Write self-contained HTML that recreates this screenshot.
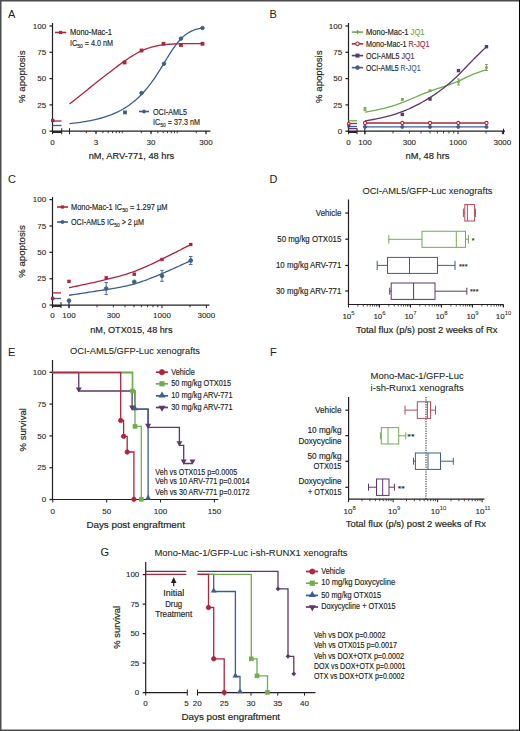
<!DOCTYPE html>
<html><head><meta charset="utf-8"><style>
html,body{margin:0;padding:0;background:#fff;}
body{width:520px;height:731px;overflow:hidden;}
svg{display:block;}
text{font-family:"Liberation Sans",sans-serif;}
</style></head><body>
<svg width="520" height="731" viewBox="0 0 520 731">
<rect x="0" y="0" width="520" height="731" fill="#fff"/>
<text x="8.00" y="17.80" font-size="11" fill="#231f20" stroke="#231f20" stroke-width="0.05">A</text>
<line x1="52.50" y1="23.00" x2="52.50" y2="131.80" stroke="#231f20" stroke-width="1.2"/>
<line x1="49.50" y1="131.20" x2="52.50" y2="131.20" stroke="#231f20" stroke-width="1.25"/>
<text x="46.20" y="133.80" font-size="8.0" fill="#231f20" stroke="#231f20" stroke-width="0.1" text-anchor="end">0</text>
<line x1="49.50" y1="104.90" x2="52.50" y2="104.90" stroke="#231f20" stroke-width="1.25"/>
<text x="46.20" y="107.50" font-size="8.0" fill="#231f20" stroke="#231f20" stroke-width="0.1" text-anchor="end">25</text>
<line x1="49.50" y1="78.60" x2="52.50" y2="78.60" stroke="#231f20" stroke-width="1.25"/>
<text x="46.20" y="81.20" font-size="8.0" fill="#231f20" stroke="#231f20" stroke-width="0.1" text-anchor="end">50</text>
<line x1="49.50" y1="52.30" x2="52.50" y2="52.30" stroke="#231f20" stroke-width="1.25"/>
<text x="46.20" y="54.90" font-size="8.0" fill="#231f20" stroke="#231f20" stroke-width="0.1" text-anchor="end">75</text>
<line x1="49.50" y1="26.00" x2="52.50" y2="26.00" stroke="#231f20" stroke-width="1.25"/>
<text x="46.20" y="28.60" font-size="8.0" fill="#231f20" stroke="#231f20" stroke-width="0.1" text-anchor="end">100</text>
<line x1="51.90" y1="131.20" x2="210.50" y2="131.20" stroke="#231f20" stroke-width="1.2"/>
<line x1="52.50" y1="128.20" x2="52.50" y2="134.20" stroke="#231f20" stroke-width="1.0"/>
<line x1="61.70" y1="128.20" x2="61.70" y2="134.20" stroke="#231f20" stroke-width="1.0"/>
<line x1="69.50" y1="128.20" x2="69.50" y2="134.20" stroke="#231f20" stroke-width="1.0"/>
<rect x="53" y="131.2" width="8.5" height="1.8" fill="#231f20"/>
<line x1="86.31" y1="131.20" x2="86.31" y2="133.20" stroke="#231f20" stroke-width="0.9"/>
<line x1="96.00" y1="131.20" x2="96.00" y2="133.20" stroke="#231f20" stroke-width="0.9"/>
<line x1="102.87" y1="131.20" x2="102.87" y2="133.20" stroke="#231f20" stroke-width="0.9"/>
<line x1="108.20" y1="131.20" x2="108.20" y2="133.20" stroke="#231f20" stroke-width="0.9"/>
<line x1="112.56" y1="131.20" x2="112.56" y2="133.20" stroke="#231f20" stroke-width="0.9"/>
<line x1="116.24" y1="131.20" x2="116.24" y2="133.20" stroke="#231f20" stroke-width="0.9"/>
<line x1="119.43" y1="131.20" x2="119.43" y2="133.20" stroke="#231f20" stroke-width="0.9"/>
<line x1="122.24" y1="131.20" x2="122.24" y2="133.20" stroke="#231f20" stroke-width="0.9"/>
<line x1="141.31" y1="131.20" x2="141.31" y2="133.20" stroke="#231f20" stroke-width="0.9"/>
<line x1="151.00" y1="131.20" x2="151.00" y2="133.20" stroke="#231f20" stroke-width="0.9"/>
<line x1="157.87" y1="131.20" x2="157.87" y2="133.20" stroke="#231f20" stroke-width="0.9"/>
<line x1="163.20" y1="131.20" x2="163.20" y2="133.20" stroke="#231f20" stroke-width="0.9"/>
<line x1="167.56" y1="131.20" x2="167.56" y2="133.20" stroke="#231f20" stroke-width="0.9"/>
<line x1="171.24" y1="131.20" x2="171.24" y2="133.20" stroke="#231f20" stroke-width="0.9"/>
<line x1="174.43" y1="131.20" x2="174.43" y2="133.20" stroke="#231f20" stroke-width="0.9"/>
<line x1="177.24" y1="131.20" x2="177.24" y2="133.20" stroke="#231f20" stroke-width="0.9"/>
<line x1="196.31" y1="131.20" x2="196.31" y2="133.20" stroke="#231f20" stroke-width="0.9"/>
<line x1="206.00" y1="131.20" x2="206.00" y2="133.20" stroke="#231f20" stroke-width="0.9"/>
<line x1="96.00" y1="131.20" x2="96.00" y2="134.20" stroke="#231f20" stroke-width="1.0"/>
<line x1="151.00" y1="131.20" x2="151.00" y2="134.20" stroke="#231f20" stroke-width="1.0"/>
<line x1="206.00" y1="131.20" x2="206.00" y2="134.20" stroke="#231f20" stroke-width="1.0"/>
<text x="96.00" y="145.00" font-size="8.0" fill="#231f20" stroke="#231f20" stroke-width="0.1" text-anchor="middle">3</text>
<text x="151.00" y="145.00" font-size="8.0" fill="#231f20" stroke="#231f20" stroke-width="0.1" text-anchor="middle">30</text>
<text x="206.00" y="145.00" font-size="8.0" fill="#231f20" stroke="#231f20" stroke-width="0.1" text-anchor="middle">300</text>
<text x="52.50" y="145.00" font-size="8.0" fill="#231f20" stroke="#231f20" stroke-width="0.1" text-anchor="middle">0</text>
<text x="88.70" y="158.90" font-size="9.6" fill="#231f20" stroke="#231f20" stroke-width="0.18" textLength="85.50" lengthAdjust="spacingAndGlyphs">nM, ARV-771, 48 hrs</text>
<text x="25.30" y="76.70" font-size="9.5" fill="#231f20" stroke="#231f20" stroke-width="0.18" text-anchor="middle" textLength="52.50" lengthAdjust="spacingAndGlyphs" transform="rotate(-90 25.30 76.70)">% apoptosis</text>
<line x1="55.00" y1="32.50" x2="66.30" y2="32.50" stroke="#ac263d" stroke-width="1.6"/>
<rect x="59.00" y="30.90" width="3.20" height="3.20" fill="#ac263d"/>
<text x="70.00" y="35.40" font-size="8.6" fill="#231f20" stroke="#231f20" stroke-width="0.16" textLength="42.00" lengthAdjust="spacingAndGlyphs">Mono-Mac-1</text>
<text x="70.00" y="45.70" font-size="8.6" fill="#231f20" stroke="#231f20" stroke-width="0.16" textLength="43.00" lengthAdjust="spacingAndGlyphs">IC<tspan font-size="5.9" dy="2.1">50</tspan><tspan dy="-2.1"> = 4.0 nM</tspan></text>
<line x1="139.00" y1="111.50" x2="149.00" y2="111.50" stroke="#3c5e8f" stroke-width="1.6"/>
<circle cx="144.00" cy="111.50" r="1.60" fill="#3c5e8f" stroke="#3c5e8f" stroke-width="0.8"/>
<text x="153.00" y="114.50" font-size="8.6" fill="#231f20" stroke="#231f20" stroke-width="0.16" textLength="34.00" lengthAdjust="spacingAndGlyphs">OCI-AML5</text>
<text x="153.00" y="124.70" font-size="8.6" fill="#231f20" stroke="#231f20" stroke-width="0.16" textLength="47.00" lengthAdjust="spacingAndGlyphs">IC<tspan font-size="5.9" dy="2.1">50</tspan><tspan dy="-2.1"> = 37.3 nM</tspan></text>
<line x1="52.50" y1="121.00" x2="61.50" y2="121.00" stroke="#ac263d" stroke-width="1.3"/>
<rect x="51.10" y="118.80" width="3.40" height="3.40" fill="#ac263d"/>
<line x1="52.50" y1="125.50" x2="61.50" y2="125.50" stroke="#3c5e8f" stroke-width="1.3"/>
<polyline points="69.50,104.04 71.72,102.27 73.93,100.50 76.15,98.73 78.37,96.96 80.58,95.19 82.80,93.42 85.02,91.66 87.23,89.89 89.45,88.12 91.67,86.36 93.88,84.60 96.10,82.84 98.32,81.09 100.53,79.33 102.75,77.59 104.97,75.85 107.18,74.11 109.40,72.39 111.62,70.68 113.83,68.98 116.05,67.30 118.27,65.63 120.48,64.00 122.70,62.39 124.92,60.82 127.13,59.28 129.35,57.80 131.57,56.37 133.78,55.01 136.00,53.71 138.22,52.50 140.43,51.36 142.65,50.32 144.87,49.37 147.08,48.52 149.30,47.76 151.52,47.09 153.73,46.51 155.95,46.01 158.17,45.58 160.38,45.22 162.60,44.91 164.82,44.66 167.03,44.45 169.25,44.27 171.47,44.13 173.68,44.01 175.90,43.91 178.12,43.84 180.33,43.77 182.55,43.72 184.77,43.68 186.98,43.64 189.20,43.61 191.42,43.59 193.63,43.57 195.85,43.56 198.07,43.55 200.28,43.54 202.50,43.53" fill="none" stroke="#ac263d" stroke-width="1.3" stroke-linejoin="round"/>
<rect x="122.70" y="60.60" width="3.80" height="3.80" fill="#ac263d"/>
<rect x="139.60" y="48.60" width="3.80" height="3.80" fill="#ac263d"/>
<rect x="161.60" y="41.90" width="3.80" height="3.80" fill="#ac263d"/>
<rect x="179.10" y="43.10" width="3.80" height="3.80" fill="#ac263d"/>
<rect x="200.60" y="41.90" width="3.80" height="3.80" fill="#ac263d"/>
<polyline points="69.50,123.60 71.72,123.37 73.93,123.13 76.15,122.86 78.37,122.58 80.58,122.28 82.80,121.95 85.02,121.60 87.23,121.22 89.45,120.81 91.67,120.37 93.88,119.89 96.10,119.39 98.32,118.84 100.53,118.25 102.75,117.61 104.97,116.93 107.18,116.20 109.40,115.41 111.62,114.56 113.83,113.64 116.05,112.66 118.27,111.60 120.48,110.46 122.70,109.24 124.92,107.92 127.13,106.51 129.35,104.99 131.57,103.35 133.78,101.60 136.00,99.72 138.22,97.71 140.43,95.55 142.65,93.24 144.87,90.78 147.08,88.15 149.30,85.37 151.52,82.42 153.73,79.30 155.95,76.04 158.17,72.65 160.38,69.13 162.60,65.54 164.82,61.90 167.03,58.26 169.25,54.68 171.47,51.21 173.68,47.91 175.90,44.83 178.12,42.02 180.33,39.49 182.55,37.26 184.77,35.33 186.98,33.69 189.20,32.31 191.42,31.16 193.63,30.23 195.85,29.46 198.07,28.85 200.28,28.36 202.50,27.97" fill="none" stroke="#3c5e8f" stroke-width="1.3" stroke-linejoin="round"/>
<rect x="123.10" y="110.50" width="3.80" height="3.80" fill="#3c5e8f"/>
<circle cx="141.50" cy="93.00" r="1.80" fill="#3c5e8f" stroke="#3c5e8f" stroke-width="0.8"/>
<circle cx="164.00" cy="63.80" r="1.80" fill="#3c5e8f" stroke="#3c5e8f" stroke-width="0.8"/>
<circle cx="181.00" cy="38.60" r="1.80" fill="#3c5e8f" stroke="#3c5e8f" stroke-width="0.8"/>
<circle cx="202.50" cy="28.00" r="1.80" fill="#3c5e8f" stroke="#3c5e8f" stroke-width="0.8"/>
<text x="269.50" y="17.80" font-size="11" fill="#231f20" stroke="#231f20" stroke-width="0.05">B</text>
<line x1="348.50" y1="23.00" x2="348.50" y2="131.80" stroke="#231f20" stroke-width="1.2"/>
<line x1="345.50" y1="131.20" x2="348.50" y2="131.20" stroke="#231f20" stroke-width="1.25"/>
<text x="342.20" y="133.80" font-size="8.0" fill="#231f20" stroke="#231f20" stroke-width="0.1" text-anchor="end">0</text>
<line x1="345.50" y1="104.90" x2="348.50" y2="104.90" stroke="#231f20" stroke-width="1.25"/>
<text x="342.20" y="107.50" font-size="8.0" fill="#231f20" stroke="#231f20" stroke-width="0.1" text-anchor="end">25</text>
<line x1="345.50" y1="78.60" x2="348.50" y2="78.60" stroke="#231f20" stroke-width="1.25"/>
<text x="342.20" y="81.20" font-size="8.0" fill="#231f20" stroke="#231f20" stroke-width="0.1" text-anchor="end">50</text>
<line x1="345.50" y1="52.30" x2="348.50" y2="52.30" stroke="#231f20" stroke-width="1.25"/>
<text x="342.20" y="54.90" font-size="8.0" fill="#231f20" stroke="#231f20" stroke-width="0.1" text-anchor="end">75</text>
<line x1="345.50" y1="26.00" x2="348.50" y2="26.00" stroke="#231f20" stroke-width="1.25"/>
<text x="342.20" y="28.60" font-size="8.0" fill="#231f20" stroke="#231f20" stroke-width="0.1" text-anchor="end">100</text>
<line x1="347.90" y1="131.20" x2="505.00" y2="131.20" stroke="#231f20" stroke-width="1.2"/>
<line x1="348.50" y1="128.20" x2="348.50" y2="134.20" stroke="#231f20" stroke-width="1.0"/>
<line x1="357.00" y1="128.20" x2="357.00" y2="134.20" stroke="#231f20" stroke-width="1.0"/>
<line x1="364.80" y1="128.20" x2="364.80" y2="134.20" stroke="#231f20" stroke-width="1.0"/>
<rect x="349" y="131.2" width="8" height="1.8" fill="#231f20"/>
<line x1="393.00" y1="131.20" x2="393.00" y2="133.40" stroke="#231f20" stroke-width="0.9"/>
<line x1="409.37" y1="131.20" x2="409.37" y2="133.40" stroke="#231f20" stroke-width="0.9"/>
<line x1="420.99" y1="131.20" x2="420.99" y2="133.40" stroke="#231f20" stroke-width="0.9"/>
<line x1="430.00" y1="131.20" x2="430.00" y2="133.40" stroke="#231f20" stroke-width="0.9"/>
<line x1="437.37" y1="131.20" x2="437.37" y2="133.40" stroke="#231f20" stroke-width="0.9"/>
<line x1="443.59" y1="131.20" x2="443.59" y2="133.40" stroke="#231f20" stroke-width="0.9"/>
<line x1="448.99" y1="131.20" x2="448.99" y2="133.40" stroke="#231f20" stroke-width="0.9"/>
<line x1="453.74" y1="131.20" x2="453.74" y2="133.40" stroke="#231f20" stroke-width="0.9"/>
<line x1="486.00" y1="131.20" x2="486.00" y2="133.40" stroke="#231f20" stroke-width="0.9"/>
<line x1="365.00" y1="131.20" x2="365.00" y2="134.20" stroke="#231f20" stroke-width="1.0"/>
<line x1="458.00" y1="131.20" x2="458.00" y2="134.20" stroke="#231f20" stroke-width="1.0"/>
<line x1="502.37" y1="131.20" x2="502.37" y2="134.20" stroke="#231f20" stroke-width="1.0"/>
<line x1="503.50" y1="128.70" x2="503.50" y2="134.20" stroke="#231f20" stroke-width="1.0"/>
<text x="365.00" y="145.00" font-size="8.0" fill="#231f20" stroke="#231f20" stroke-width="0.1" text-anchor="middle">100</text>
<text x="409.37" y="145.00" font-size="8.0" fill="#231f20" stroke="#231f20" stroke-width="0.1" text-anchor="middle">300</text>
<text x="458.00" y="145.00" font-size="8.0" fill="#231f20" stroke="#231f20" stroke-width="0.1" text-anchor="middle">1000</text>
<text x="502.37" y="145.00" font-size="8.0" fill="#231f20" stroke="#231f20" stroke-width="0.1" text-anchor="middle">3000</text>
<text x="348.50" y="145.00" font-size="8.0" fill="#231f20" stroke="#231f20" stroke-width="0.1" text-anchor="middle">0</text>
<text x="427.50" y="158.90" font-size="9.6" fill="#231f20" stroke="#231f20" stroke-width="0.18" text-anchor="middle" textLength="44.00" lengthAdjust="spacingAndGlyphs">nM, 48 hrs</text>
<text x="322.10" y="76.70" font-size="9.5" fill="#231f20" stroke="#231f20" stroke-width="0.18" text-anchor="middle" textLength="52.50" lengthAdjust="spacingAndGlyphs" transform="rotate(-90 322.10 76.70)">% apoptosis</text>
<line x1="351.80" y1="32.10" x2="363.10" y2="32.10" stroke="#70ad4f" stroke-width="1.6"/>
<line x1="355.50" y1="32.10" x2="359.50" y2="32.10" stroke="#70ad4f" stroke-width="1.3"/>
<line x1="357.50" y1="30.10" x2="357.50" y2="34.10" stroke="#70ad4f" stroke-width="1.3"/>
<text x="366.00" y="35.00" font-size="8.6" fill="#231f20" stroke="#231f20" stroke-width="0.16" textLength="58.50" lengthAdjust="spacingAndGlyphs">Mono-Mac-1 <tspan fill="#70ad4f" stroke="#70ad4f">JQ1</tspan></text>
<line x1="351.80" y1="43.80" x2="363.10" y2="43.80" stroke="#ac263d" stroke-width="1.6"/>
<circle cx="357.50" cy="43.80" r="1.80" fill="#fff" stroke="#ac263d" stroke-width="1.1"/>
<text x="366.00" y="46.70" font-size="8.6" fill="#231f20" stroke="#231f20" stroke-width="0.16" textLength="63.50" lengthAdjust="spacingAndGlyphs">Mono-Mac-1 <tspan fill="#ac263d" stroke="#ac263d">R-JQ1</tspan></text>
<line x1="351.80" y1="55.60" x2="363.10" y2="55.60" stroke="#5e376c" stroke-width="1.6"/>
<rect x="355.50" y="53.60" width="4.00" height="4.00" fill="#5e376c"/>
<text x="366.00" y="58.50" font-size="8.6" fill="#231f20" stroke="#231f20" stroke-width="0.16" textLength="48.50" lengthAdjust="spacingAndGlyphs">OCI-AML5 <tspan fill="#5e376c" stroke="#5e376c">JQ1</tspan></text>
<line x1="351.80" y1="67.60" x2="363.10" y2="67.60" stroke="#3c5e8f" stroke-width="1.6"/>
<circle cx="357.50" cy="67.60" r="1.90" fill="#3c5e8f" stroke="#3c5e8f" stroke-width="0.8"/>
<text x="366.00" y="70.50" font-size="8.6" fill="#231f20" stroke="#231f20" stroke-width="0.16" textLength="54.50" lengthAdjust="spacingAndGlyphs">OCI-AML5 <tspan fill="#3c5e8f" stroke="#3c5e8f">R-JQ1</tspan></text>
<line x1="348.50" y1="120.80" x2="357.00" y2="120.80" stroke="#70ad4f" stroke-width="1.3"/>
<line x1="348.50" y1="123.50" x2="357.00" y2="123.50" stroke="#ac263d" stroke-width="1.3"/>
<line x1="348.50" y1="126.50" x2="357.00" y2="126.50" stroke="#3c5e8f" stroke-width="1.3"/>
<line x1="348.50" y1="128.60" x2="357.00" y2="128.60" stroke="#5e376c" stroke-width="1.3"/>
<rect x="347.30" y="124.30" width="3.00" height="3.00" fill="#5e376c"/>
<circle cx="348.80" cy="123.50" r="1.30" fill="#fff" stroke="#ac263d" stroke-width="1.1"/>
<line x1="365.00" y1="123.00" x2="486.50" y2="123.00" stroke="#ac263d" stroke-width="1.3"/>
<line x1="365.00" y1="126.90" x2="486.50" y2="126.90" stroke="#3c5e8f" stroke-width="1.3"/>
<circle cx="365.00" cy="123.00" r="1.60" fill="#fff" stroke="#ac263d" stroke-width="1.1"/>
<circle cx="365.00" cy="126.90" r="1.60" fill="#3c5e8f" stroke="#3c5e8f" stroke-width="0.8"/>
<circle cx="402.30" cy="123.00" r="1.60" fill="#fff" stroke="#ac263d" stroke-width="1.1"/>
<circle cx="402.30" cy="126.90" r="1.60" fill="#3c5e8f" stroke="#3c5e8f" stroke-width="0.8"/>
<circle cx="430.00" cy="123.00" r="1.60" fill="#fff" stroke="#ac263d" stroke-width="1.1"/>
<circle cx="430.00" cy="126.90" r="1.60" fill="#3c5e8f" stroke="#3c5e8f" stroke-width="0.8"/>
<circle cx="458.30" cy="123.00" r="1.60" fill="#fff" stroke="#ac263d" stroke-width="1.1"/>
<circle cx="458.30" cy="126.90" r="1.60" fill="#3c5e8f" stroke="#3c5e8f" stroke-width="0.8"/>
<circle cx="486.50" cy="123.00" r="1.60" fill="#fff" stroke="#ac263d" stroke-width="1.1"/>
<circle cx="486.50" cy="126.90" r="1.60" fill="#3c5e8f" stroke="#3c5e8f" stroke-width="0.8"/>
<polyline points="365.00,112.20 367.02,111.83 369.05,111.45 371.07,111.07 373.10,110.68 375.12,110.28 377.15,109.86 379.18,109.43 381.20,108.98 383.23,108.51 385.25,108.01 387.27,107.49 389.30,106.94 391.32,106.35 393.35,105.73 395.38,105.08 397.40,104.38 399.43,103.65 401.45,102.88 403.48,102.09 405.50,101.28 407.52,100.45 409.55,99.60 411.57,98.75 413.60,97.88 415.62,97.02 417.65,96.16 419.68,95.30 421.70,94.46 423.73,93.63 425.75,92.82 427.77,92.03 429.80,91.27 431.82,90.54 433.85,89.84 435.88,89.16 437.90,88.49 439.93,87.83 441.95,87.17 443.98,86.51 446.00,85.83 448.02,85.14 450.05,84.43 452.07,83.69 454.10,82.92 456.12,82.10 458.15,81.23 460.18,80.32 462.20,79.37 464.23,78.41 466.25,77.43 468.27,76.48 470.30,75.55 472.32,74.66 474.35,73.83 476.38,73.05 478.40,72.31 480.43,71.61 482.45,70.92 484.48,70.26 486.50,69.60" fill="none" stroke="#70ad4f" stroke-width="1.3" stroke-linejoin="round"/>
<line x1="365.00" y1="107.40" x2="365.00" y2="110.60" stroke="#70ad4f" stroke-width="0.9"/>
<line x1="363.50" y1="107.40" x2="366.50" y2="107.40" stroke="#70ad4f" stroke-width="0.9"/>
<line x1="363.50" y1="110.60" x2="366.50" y2="110.60" stroke="#70ad4f" stroke-width="0.9"/>
<rect x="363.70" y="107.70" width="2.60" height="2.60" fill="#70ad4f"/>
<line x1="402.30" y1="98.60" x2="402.30" y2="100.20" stroke="#70ad4f" stroke-width="0.9"/>
<line x1="400.80" y1="98.60" x2="403.80" y2="98.60" stroke="#70ad4f" stroke-width="0.9"/>
<line x1="400.80" y1="100.20" x2="403.80" y2="100.20" stroke="#70ad4f" stroke-width="0.9"/>
<rect x="401.00" y="98.10" width="2.60" height="2.60" fill="#70ad4f"/>
<line x1="430.00" y1="90.20" x2="430.00" y2="91.40" stroke="#70ad4f" stroke-width="0.9"/>
<line x1="428.50" y1="90.20" x2="431.50" y2="90.20" stroke="#70ad4f" stroke-width="0.9"/>
<line x1="428.50" y1="91.40" x2="431.50" y2="91.40" stroke="#70ad4f" stroke-width="0.9"/>
<rect x="428.70" y="89.50" width="2.60" height="2.60" fill="#70ad4f"/>
<line x1="458.50" y1="79.00" x2="458.50" y2="85.00" stroke="#70ad4f" stroke-width="0.9"/>
<line x1="457.00" y1="79.00" x2="460.00" y2="79.00" stroke="#70ad4f" stroke-width="0.9"/>
<line x1="457.00" y1="85.00" x2="460.00" y2="85.00" stroke="#70ad4f" stroke-width="0.9"/>
<rect x="457.20" y="80.70" width="2.60" height="2.60" fill="#70ad4f"/>
<line x1="486.50" y1="64.50" x2="486.50" y2="70.50" stroke="#70ad4f" stroke-width="0.9"/>
<line x1="485.00" y1="64.50" x2="488.00" y2="64.50" stroke="#70ad4f" stroke-width="0.9"/>
<line x1="485.00" y1="70.50" x2="488.00" y2="70.50" stroke="#70ad4f" stroke-width="0.9"/>
<rect x="485.20" y="66.20" width="2.60" height="2.60" fill="#70ad4f"/>
<polyline points="365.00,121.00 367.02,120.63 369.05,120.26 371.07,119.89 373.10,119.51 375.12,119.12 377.15,118.71 379.18,118.29 381.20,117.86 383.23,117.40 385.25,116.92 387.27,116.41 389.30,115.88 391.32,115.31 393.35,114.71 395.38,114.08 397.40,113.41 399.43,112.70 401.45,111.95 403.48,111.17 405.50,110.35 407.52,109.49 409.55,108.60 411.57,107.66 413.60,106.69 415.62,105.69 417.65,104.65 419.68,103.57 421.70,102.45 423.73,101.30 425.75,100.11 427.77,98.89 429.80,97.63 431.82,96.33 433.85,95.00 435.88,93.62 437.90,92.20 439.93,90.74 441.95,89.24 443.98,87.68 446.00,86.07 448.02,84.42 450.05,82.70 452.07,80.93 454.10,79.10 456.12,77.21 458.15,75.25 460.18,73.24 462.20,71.17 464.23,69.07 466.25,66.94 468.27,64.81 470.30,62.69 472.32,60.59 474.35,58.53 476.38,56.50 478.40,54.50 480.43,52.53 482.45,50.58 484.48,48.64 486.50,46.70" fill="none" stroke="#5e376c" stroke-width="1.3" stroke-linejoin="round"/>
<rect x="400.60" y="112.70" width="3.40" height="3.40" fill="#5e376c"/>
<rect x="428.30" y="97.30" width="3.40" height="3.40" fill="#5e376c"/>
<rect x="456.80" y="68.90" width="3.40" height="3.40" fill="#5e376c"/>
<rect x="484.80" y="45.00" width="3.40" height="3.40" fill="#5e376c"/>
<text x="8.00" y="182.50" font-size="11" fill="#231f20" stroke="#231f20" stroke-width="0.05">C</text>
<line x1="52.50" y1="197.00" x2="52.50" y2="305.70" stroke="#231f20" stroke-width="1.2"/>
<line x1="49.50" y1="305.10" x2="52.50" y2="305.10" stroke="#231f20" stroke-width="1.25"/>
<text x="46.20" y="307.70" font-size="8.0" fill="#231f20" stroke="#231f20" stroke-width="0.1" text-anchor="end">0</text>
<line x1="49.50" y1="278.73" x2="52.50" y2="278.73" stroke="#231f20" stroke-width="1.25"/>
<text x="46.20" y="281.33" font-size="8.0" fill="#231f20" stroke="#231f20" stroke-width="0.1" text-anchor="end">25</text>
<line x1="49.50" y1="252.35" x2="52.50" y2="252.35" stroke="#231f20" stroke-width="1.25"/>
<text x="46.20" y="254.95" font-size="8.0" fill="#231f20" stroke="#231f20" stroke-width="0.1" text-anchor="end">50</text>
<line x1="49.50" y1="225.98" x2="52.50" y2="225.98" stroke="#231f20" stroke-width="1.25"/>
<text x="46.20" y="228.58" font-size="8.0" fill="#231f20" stroke="#231f20" stroke-width="0.1" text-anchor="end">75</text>
<line x1="49.50" y1="199.60" x2="52.50" y2="199.60" stroke="#231f20" stroke-width="1.25"/>
<text x="46.20" y="202.20" font-size="8.0" fill="#231f20" stroke="#231f20" stroke-width="0.1" text-anchor="end">100</text>
<line x1="51.90" y1="305.10" x2="209.50" y2="305.10" stroke="#231f20" stroke-width="1.2"/>
<line x1="52.50" y1="302.10" x2="52.50" y2="308.10" stroke="#231f20" stroke-width="1.0"/>
<line x1="61.00" y1="302.10" x2="61.00" y2="308.10" stroke="#231f20" stroke-width="1.0"/>
<line x1="69.00" y1="302.10" x2="69.00" y2="308.10" stroke="#231f20" stroke-width="1.0"/>
<rect x="53" y="305.1" width="8" height="1.8" fill="#231f20"/>
<line x1="97.00" y1="305.10" x2="97.00" y2="307.30" stroke="#231f20" stroke-width="0.9"/>
<line x1="113.37" y1="305.10" x2="113.37" y2="307.30" stroke="#231f20" stroke-width="0.9"/>
<line x1="124.99" y1="305.10" x2="124.99" y2="307.30" stroke="#231f20" stroke-width="0.9"/>
<line x1="134.00" y1="305.10" x2="134.00" y2="307.30" stroke="#231f20" stroke-width="0.9"/>
<line x1="141.37" y1="305.10" x2="141.37" y2="307.30" stroke="#231f20" stroke-width="0.9"/>
<line x1="147.59" y1="305.10" x2="147.59" y2="307.30" stroke="#231f20" stroke-width="0.9"/>
<line x1="152.99" y1="305.10" x2="152.99" y2="307.30" stroke="#231f20" stroke-width="0.9"/>
<line x1="157.74" y1="305.10" x2="157.74" y2="307.30" stroke="#231f20" stroke-width="0.9"/>
<line x1="190.00" y1="305.10" x2="190.00" y2="307.30" stroke="#231f20" stroke-width="0.9"/>
<line x1="69.00" y1="305.10" x2="69.00" y2="308.10" stroke="#231f20" stroke-width="1.0"/>
<line x1="162.00" y1="305.10" x2="162.00" y2="308.10" stroke="#231f20" stroke-width="1.0"/>
<line x1="206.37" y1="305.10" x2="206.37" y2="308.10" stroke="#231f20" stroke-width="1.0"/>
<text x="69.00" y="318.30" font-size="8.0" fill="#231f20" stroke="#231f20" stroke-width="0.1" text-anchor="middle">100</text>
<text x="113.37" y="318.30" font-size="8.0" fill="#231f20" stroke="#231f20" stroke-width="0.1" text-anchor="middle">300</text>
<text x="162.00" y="318.30" font-size="8.0" fill="#231f20" stroke="#231f20" stroke-width="0.1" text-anchor="middle">1000</text>
<text x="206.37" y="318.30" font-size="8.0" fill="#231f20" stroke="#231f20" stroke-width="0.1" text-anchor="middle">3000</text>
<text x="52.50" y="318.30" font-size="8.0" fill="#231f20" stroke="#231f20" stroke-width="0.1" text-anchor="middle">0</text>
<text x="90.20" y="332.50" font-size="9.6" fill="#231f20" stroke="#231f20" stroke-width="0.18" textLength="82.30" lengthAdjust="spacingAndGlyphs">nM, OTX015, 48 hrs</text>
<text x="25.30" y="251.50" font-size="9.5" fill="#231f20" stroke="#231f20" stroke-width="0.18" text-anchor="middle" textLength="52.50" lengthAdjust="spacingAndGlyphs" transform="rotate(-90 25.30 251.50)">% apoptosis</text>
<line x1="57.00" y1="207.00" x2="68.00" y2="207.00" stroke="#ac263d" stroke-width="1.6"/>
<rect x="60.90" y="205.40" width="3.20" height="3.20" fill="#ac263d"/>
<text x="71.00" y="209.90" font-size="8.6" fill="#231f20" stroke="#231f20" stroke-width="0.16" textLength="96.50" lengthAdjust="spacingAndGlyphs">Mono-Mac-1 IC<tspan font-size="5.9" dy="2.1">50</tspan><tspan dy="-2.1"> = 1.297 µM</tspan></text>
<line x1="57.00" y1="222.00" x2="68.00" y2="222.00" stroke="#3c5e8f" stroke-width="1.6"/>
<circle cx="62.50" cy="222.00" r="1.60" fill="#3c5e8f" stroke="#3c5e8f" stroke-width="0.8"/>
<text x="71.00" y="224.90" font-size="8.6" fill="#231f20" stroke="#231f20" stroke-width="0.16" textLength="73.00" lengthAdjust="spacingAndGlyphs">OCI-AML5 IC<tspan font-size="5.9" dy="2.1">50</tspan><tspan dy="-2.1"> &gt; 2 µM</tspan></text>
<line x1="52.40" y1="292.90" x2="61.00" y2="292.90" stroke="#ac263d" stroke-width="1.3"/>
<line x1="52.40" y1="298.50" x2="61.00" y2="298.50" stroke="#3c5e8f" stroke-width="1.3"/>
<rect x="50.90" y="296.80" width="3.40" height="3.40" fill="#ac263d"/>
<polyline points="69.00,287.70 71.03,287.28 73.06,286.85 75.09,286.43 77.12,286.00 79.15,285.57 81.17,285.15 83.20,284.71 85.23,284.28 87.26,283.84 89.29,283.40 91.32,282.96 93.35,282.51 95.38,282.06 97.41,281.60 99.44,281.14 101.47,280.67 103.50,280.19 105.53,279.71 107.55,279.23 109.58,278.73 111.61,278.22 113.64,277.71 115.67,277.18 117.70,276.63 119.73,276.07 121.76,275.49 123.79,274.89 125.82,274.27 127.85,273.62 129.88,272.95 131.90,272.25 133.93,271.52 135.96,270.77 137.99,269.98 140.02,269.17 142.05,268.33 144.08,267.47 146.11,266.58 148.14,265.68 150.17,264.76 152.20,263.82 154.22,262.86 156.25,261.90 158.28,260.92 160.31,259.93 162.34,258.93 164.37,257.93 166.40,256.92 168.43,255.90 170.46,254.88 172.49,253.86 174.52,252.83 176.55,251.80 178.57,250.76 180.60,249.72 182.63,248.68 184.66,247.64 186.69,246.59 188.72,245.55 190.75,244.50" fill="none" stroke="#ac263d" stroke-width="1.3" stroke-linejoin="round"/>
<rect x="67.30" y="279.70" width="3.40" height="3.40" fill="#ac263d"/>
<rect x="104.50" y="276.10" width="3.40" height="3.40" fill="#ac263d"/>
<rect x="132.55" y="272.50" width="3.40" height="3.40" fill="#ac263d"/>
<rect x="160.30" y="257.80" width="3.40" height="3.40" fill="#ac263d"/>
<rect x="189.05" y="242.80" width="3.40" height="3.40" fill="#ac263d"/>
<polyline points="69.00,295.30 71.03,294.99 73.06,294.68 75.09,294.37 77.12,294.06 79.15,293.75 81.17,293.44 83.20,293.13 85.23,292.82 87.26,292.51 89.29,292.20 91.32,291.88 93.35,291.57 95.38,291.26 97.41,290.94 99.44,290.63 101.47,290.31 103.50,289.99 105.53,289.67 107.55,289.36 109.58,289.03 111.61,288.70 113.64,288.37 115.67,288.02 117.70,287.66 119.73,287.29 121.76,286.90 123.79,286.48 125.82,286.05 127.85,285.58 129.88,285.09 131.90,284.57 133.93,284.02 135.96,283.43 137.99,282.81 140.02,282.15 142.05,281.47 144.08,280.76 146.11,280.02 148.14,279.26 150.17,278.48 152.20,277.68 154.22,276.86 156.25,276.03 158.28,275.18 160.31,274.32 162.34,273.45 164.37,272.58 166.40,271.69 168.43,270.81 170.46,269.91 172.49,269.01 174.52,268.10 176.55,267.19 178.57,266.28 180.60,265.36 182.63,264.44 184.66,263.52 186.69,262.60 188.72,261.67 190.75,260.75" fill="none" stroke="#3c5e8f" stroke-width="1.3" stroke-linejoin="round"/>
<circle cx="69.00" cy="300.70" r="1.90" fill="#3c5e8f" stroke="#3c5e8f" stroke-width="0.8"/>
<line x1="106.20" y1="282.60" x2="106.20" y2="294.60" stroke="#3c5e8f" stroke-width="0.9"/>
<line x1="104.40" y1="282.60" x2="108.00" y2="282.60" stroke="#3c5e8f" stroke-width="0.9"/>
<line x1="104.40" y1="294.60" x2="108.00" y2="294.60" stroke="#3c5e8f" stroke-width="0.9"/>
<circle cx="106.20" cy="288.60" r="1.90" fill="#3c5e8f" stroke="#3c5e8f" stroke-width="0.8"/>
<circle cx="134.25" cy="281.80" r="1.90" fill="#3c5e8f" stroke="#3c5e8f" stroke-width="0.8"/>
<line x1="162.00" y1="270.30" x2="162.00" y2="281.30" stroke="#3c5e8f" stroke-width="0.9"/>
<line x1="160.20" y1="270.30" x2="163.80" y2="270.30" stroke="#3c5e8f" stroke-width="0.9"/>
<line x1="160.20" y1="281.30" x2="163.80" y2="281.30" stroke="#3c5e8f" stroke-width="0.9"/>
<circle cx="162.00" cy="275.80" r="1.90" fill="#3c5e8f" stroke="#3c5e8f" stroke-width="0.8"/>
<line x1="190.75" y1="256.50" x2="190.75" y2="264.50" stroke="#3c5e8f" stroke-width="0.9"/>
<line x1="188.95" y1="256.50" x2="192.55" y2="256.50" stroke="#3c5e8f" stroke-width="0.9"/>
<line x1="188.95" y1="264.50" x2="192.55" y2="264.50" stroke="#3c5e8f" stroke-width="0.9"/>
<circle cx="190.75" cy="260.50" r="1.90" fill="#3c5e8f" stroke="#3c5e8f" stroke-width="0.8"/>
<text x="269.50" y="182.50" font-size="11" fill="#231f20" stroke="#231f20" stroke-width="0.05">D</text>
<text x="362.40" y="193.60" font-size="9.9" fill="#231f20" stroke="#231f20" stroke-width="0.08" textLength="130.00" lengthAdjust="spacingAndGlyphs">OCI-AML5/GFP-Luc xenografts</text>
<line x1="348.50" y1="199.50" x2="348.50" y2="305.10" stroke="#231f20" stroke-width="1.2"/>
<line x1="345.30" y1="213.00" x2="348.50" y2="213.00" stroke="#231f20" stroke-width="1.25"/>
<text x="341.30" y="215.80" font-size="8.6" fill="#231f20" stroke="#231f20" stroke-width="0.16" text-anchor="end" textLength="25.50" lengthAdjust="spacingAndGlyphs">Vehicle</text>
<line x1="345.30" y1="239.20" x2="348.50" y2="239.20" stroke="#231f20" stroke-width="1.25"/>
<text x="341.30" y="242.00" font-size="8.6" fill="#231f20" stroke="#231f20" stroke-width="0.16" text-anchor="end" textLength="64.00" lengthAdjust="spacingAndGlyphs">50 mg/kg OTX015</text>
<line x1="345.30" y1="265.50" x2="348.50" y2="265.50" stroke="#231f20" stroke-width="1.25"/>
<text x="341.30" y="268.30" font-size="8.6" fill="#231f20" stroke="#231f20" stroke-width="0.16" text-anchor="end" textLength="65.30" lengthAdjust="spacingAndGlyphs">10 mg/kg ARV-771</text>
<line x1="345.30" y1="291.00" x2="348.50" y2="291.00" stroke="#231f20" stroke-width="1.25"/>
<text x="341.30" y="293.80" font-size="8.6" fill="#231f20" stroke="#231f20" stroke-width="0.16" text-anchor="end" textLength="65.30" lengthAdjust="spacingAndGlyphs">30 mg/kg ARV-771</text>
<line x1="347.90" y1="304.50" x2="503.60" y2="304.50" stroke="#231f20" stroke-width="1.2"/>
<line x1="348.50" y1="304.50" x2="348.50" y2="307.50" stroke="#231f20" stroke-width="1.0"/>
<line x1="357.83" y1="304.50" x2="357.83" y2="306.50" stroke="#231f20" stroke-width="0.8"/>
<line x1="363.29" y1="304.50" x2="363.29" y2="306.50" stroke="#231f20" stroke-width="0.8"/>
<line x1="367.16" y1="304.50" x2="367.16" y2="306.50" stroke="#231f20" stroke-width="0.8"/>
<line x1="370.17" y1="304.50" x2="370.17" y2="306.50" stroke="#231f20" stroke-width="0.8"/>
<line x1="372.62" y1="304.50" x2="372.62" y2="306.50" stroke="#231f20" stroke-width="0.8"/>
<line x1="374.70" y1="304.50" x2="374.70" y2="306.50" stroke="#231f20" stroke-width="0.8"/>
<line x1="376.50" y1="304.50" x2="376.50" y2="306.50" stroke="#231f20" stroke-width="0.8"/>
<line x1="378.08" y1="304.50" x2="378.08" y2="306.50" stroke="#231f20" stroke-width="0.8"/>
<text x="348.50" y="318.80" font-size="8.0" fill="#231f20" stroke="#231f20" stroke-width="0.12" text-anchor="middle">10<tspan font-size="5.92" dy="-3.4" stroke-width="0.05">5</tspan></text>
<line x1="379.50" y1="304.50" x2="379.50" y2="307.50" stroke="#231f20" stroke-width="1.0"/>
<line x1="388.83" y1="304.50" x2="388.83" y2="306.50" stroke="#231f20" stroke-width="0.8"/>
<line x1="394.29" y1="304.50" x2="394.29" y2="306.50" stroke="#231f20" stroke-width="0.8"/>
<line x1="398.16" y1="304.50" x2="398.16" y2="306.50" stroke="#231f20" stroke-width="0.8"/>
<line x1="401.17" y1="304.50" x2="401.17" y2="306.50" stroke="#231f20" stroke-width="0.8"/>
<line x1="403.62" y1="304.50" x2="403.62" y2="306.50" stroke="#231f20" stroke-width="0.8"/>
<line x1="405.70" y1="304.50" x2="405.70" y2="306.50" stroke="#231f20" stroke-width="0.8"/>
<line x1="407.50" y1="304.50" x2="407.50" y2="306.50" stroke="#231f20" stroke-width="0.8"/>
<line x1="409.08" y1="304.50" x2="409.08" y2="306.50" stroke="#231f20" stroke-width="0.8"/>
<text x="379.50" y="318.80" font-size="8.0" fill="#231f20" stroke="#231f20" stroke-width="0.12" text-anchor="middle">10<tspan font-size="5.92" dy="-3.4" stroke-width="0.05">6</tspan></text>
<line x1="410.50" y1="304.50" x2="410.50" y2="307.50" stroke="#231f20" stroke-width="1.0"/>
<line x1="419.83" y1="304.50" x2="419.83" y2="306.50" stroke="#231f20" stroke-width="0.8"/>
<line x1="425.29" y1="304.50" x2="425.29" y2="306.50" stroke="#231f20" stroke-width="0.8"/>
<line x1="429.16" y1="304.50" x2="429.16" y2="306.50" stroke="#231f20" stroke-width="0.8"/>
<line x1="432.17" y1="304.50" x2="432.17" y2="306.50" stroke="#231f20" stroke-width="0.8"/>
<line x1="434.62" y1="304.50" x2="434.62" y2="306.50" stroke="#231f20" stroke-width="0.8"/>
<line x1="436.70" y1="304.50" x2="436.70" y2="306.50" stroke="#231f20" stroke-width="0.8"/>
<line x1="438.50" y1="304.50" x2="438.50" y2="306.50" stroke="#231f20" stroke-width="0.8"/>
<line x1="440.08" y1="304.50" x2="440.08" y2="306.50" stroke="#231f20" stroke-width="0.8"/>
<text x="410.50" y="318.80" font-size="8.0" fill="#231f20" stroke="#231f20" stroke-width="0.12" text-anchor="middle">10<tspan font-size="5.92" dy="-3.4" stroke-width="0.05">7</tspan></text>
<line x1="441.50" y1="304.50" x2="441.50" y2="307.50" stroke="#231f20" stroke-width="1.0"/>
<line x1="450.83" y1="304.50" x2="450.83" y2="306.50" stroke="#231f20" stroke-width="0.8"/>
<line x1="456.29" y1="304.50" x2="456.29" y2="306.50" stroke="#231f20" stroke-width="0.8"/>
<line x1="460.16" y1="304.50" x2="460.16" y2="306.50" stroke="#231f20" stroke-width="0.8"/>
<line x1="463.17" y1="304.50" x2="463.17" y2="306.50" stroke="#231f20" stroke-width="0.8"/>
<line x1="465.62" y1="304.50" x2="465.62" y2="306.50" stroke="#231f20" stroke-width="0.8"/>
<line x1="467.70" y1="304.50" x2="467.70" y2="306.50" stroke="#231f20" stroke-width="0.8"/>
<line x1="469.50" y1="304.50" x2="469.50" y2="306.50" stroke="#231f20" stroke-width="0.8"/>
<line x1="471.08" y1="304.50" x2="471.08" y2="306.50" stroke="#231f20" stroke-width="0.8"/>
<text x="441.50" y="318.80" font-size="8.0" fill="#231f20" stroke="#231f20" stroke-width="0.12" text-anchor="middle">10<tspan font-size="5.92" dy="-3.4" stroke-width="0.05">8</tspan></text>
<line x1="472.50" y1="304.50" x2="472.50" y2="307.50" stroke="#231f20" stroke-width="1.0"/>
<line x1="481.83" y1="304.50" x2="481.83" y2="306.50" stroke="#231f20" stroke-width="0.8"/>
<line x1="487.29" y1="304.50" x2="487.29" y2="306.50" stroke="#231f20" stroke-width="0.8"/>
<line x1="491.16" y1="304.50" x2="491.16" y2="306.50" stroke="#231f20" stroke-width="0.8"/>
<line x1="494.17" y1="304.50" x2="494.17" y2="306.50" stroke="#231f20" stroke-width="0.8"/>
<line x1="496.62" y1="304.50" x2="496.62" y2="306.50" stroke="#231f20" stroke-width="0.8"/>
<line x1="498.70" y1="304.50" x2="498.70" y2="306.50" stroke="#231f20" stroke-width="0.8"/>
<line x1="500.50" y1="304.50" x2="500.50" y2="306.50" stroke="#231f20" stroke-width="0.8"/>
<line x1="502.08" y1="304.50" x2="502.08" y2="306.50" stroke="#231f20" stroke-width="0.8"/>
<text x="472.50" y="318.80" font-size="8.0" fill="#231f20" stroke="#231f20" stroke-width="0.12" text-anchor="middle">10<tspan font-size="5.92" dy="-3.4" stroke-width="0.05">9</tspan></text>
<line x1="503.50" y1="304.50" x2="503.50" y2="307.50" stroke="#231f20" stroke-width="1.0"/>
<text x="503.50" y="318.80" font-size="8.0" fill="#231f20" stroke="#231f20" stroke-width="0.12" text-anchor="middle">10<tspan font-size="5.92" dy="-3.4" stroke-width="0.05">10</tspan></text>
<text x="356.00" y="332.50" font-size="9.6" fill="#231f20" stroke="#231f20" stroke-width="0.18" textLength="141.50" lengthAdjust="spacingAndGlyphs">Total flux (p/s) post 2 weeks of Rx</text>
<line x1="463.40" y1="212.80" x2="464.80" y2="212.80" stroke="#b4485c" stroke-width="1.0"/>
<line x1="474.60" y1="212.80" x2="475.40" y2="212.80" stroke="#b4485c" stroke-width="1.0"/>
<line x1="463.40" y1="208.55" x2="463.40" y2="217.05" stroke="#b4485c" stroke-width="1.0"/>
<line x1="475.40" y1="208.55" x2="475.40" y2="217.05" stroke="#b4485c" stroke-width="1.0"/>
<rect x="464.80" y="204.60" width="9.80" height="16.40" fill="none" stroke="#b4485c" stroke-width="1.0"/>
<line x1="467.40" y1="204.60" x2="467.40" y2="221.00" stroke="#b4485c" stroke-width="1.0"/>
<line x1="388.80" y1="239.30" x2="422.00" y2="239.30" stroke="#70ad4f" stroke-width="1.0"/>
<line x1="465.50" y1="239.30" x2="468.40" y2="239.30" stroke="#70ad4f" stroke-width="1.0"/>
<line x1="388.80" y1="235.00" x2="388.80" y2="243.60" stroke="#70ad4f" stroke-width="1.0"/>
<line x1="468.40" y1="235.00" x2="468.40" y2="243.60" stroke="#70ad4f" stroke-width="1.0"/>
<rect x="422.00" y="231.25" width="43.50" height="16.10" fill="none" stroke="#70ad4f" stroke-width="1.0"/>
<line x1="456.30" y1="231.25" x2="456.30" y2="247.35" stroke="#70ad4f" stroke-width="1.0"/>
<text x="473.00" y="242.50" font-size="7" fill="#231f20" stroke="#231f20" stroke-width="0.1" text-anchor="middle">*</text>
<line x1="377.20" y1="265.40" x2="387.50" y2="265.40" stroke="#3c5e8f" stroke-width="1.0"/>
<line x1="437.50" y1="265.40" x2="455.00" y2="265.40" stroke="#3c5e8f" stroke-width="1.0"/>
<line x1="377.20" y1="260.80" x2="377.20" y2="270.00" stroke="#3c5e8f" stroke-width="1.0"/>
<line x1="455.00" y1="260.80" x2="455.00" y2="270.00" stroke="#3c5e8f" stroke-width="1.0"/>
<rect x="387.50" y="257.40" width="50.00" height="16.00" fill="none" stroke="#3c5e8f" stroke-width="1.0"/>
<line x1="409.50" y1="257.40" x2="409.50" y2="273.40" stroke="#3c5e8f" stroke-width="1.0"/>
<text x="459.00" y="268.60" font-size="7" fill="#231f20" stroke="#231f20" stroke-width="0.1" textLength="8.50" lengthAdjust="spacingAndGlyphs">***</text>
<line x1="389.70" y1="291.20" x2="391.20" y2="291.20" stroke="#5e376c" stroke-width="1.0"/>
<line x1="435.00" y1="291.20" x2="466.80" y2="291.20" stroke="#5e376c" stroke-width="1.0"/>
<line x1="389.70" y1="287.70" x2="389.70" y2="294.70" stroke="#5e376c" stroke-width="1.0"/>
<line x1="466.80" y1="287.70" x2="466.80" y2="294.70" stroke="#5e376c" stroke-width="1.0"/>
<rect x="391.20" y="283.00" width="43.80" height="16.40" fill="none" stroke="#5e376c" stroke-width="1.0"/>
<line x1="413.60" y1="283.00" x2="413.60" y2="299.40" stroke="#5e376c" stroke-width="1.0"/>
<text x="470.00" y="294.40" font-size="7" fill="#231f20" stroke="#231f20" stroke-width="0.1" textLength="8.50" lengthAdjust="spacingAndGlyphs">***</text>
<text x="8.00" y="355.50" font-size="11" fill="#231f20" stroke="#231f20" stroke-width="0.05">E</text>
<text x="70.00" y="354.20" font-size="9.9" fill="#231f20" stroke="#231f20" stroke-width="0.08" textLength="130.00" lengthAdjust="spacingAndGlyphs">OCI-AML5/GFP-Luc xenografts</text>
<line x1="52.50" y1="360.00" x2="52.50" y2="500.10" stroke="#231f20" stroke-width="1.2"/>
<line x1="49.50" y1="499.50" x2="52.50" y2="499.50" stroke="#231f20" stroke-width="1.25"/>
<text x="46.20" y="502.10" font-size="8.0" fill="#231f20" stroke="#231f20" stroke-width="0.1" text-anchor="end">0</text>
<line x1="49.50" y1="467.70" x2="52.50" y2="467.70" stroke="#231f20" stroke-width="1.25"/>
<text x="46.20" y="470.30" font-size="8.0" fill="#231f20" stroke="#231f20" stroke-width="0.1" text-anchor="end">25</text>
<line x1="49.50" y1="435.90" x2="52.50" y2="435.90" stroke="#231f20" stroke-width="1.25"/>
<text x="46.20" y="438.50" font-size="8.0" fill="#231f20" stroke="#231f20" stroke-width="0.1" text-anchor="end">50</text>
<line x1="49.50" y1="404.10" x2="52.50" y2="404.10" stroke="#231f20" stroke-width="1.25"/>
<text x="46.20" y="406.70" font-size="8.0" fill="#231f20" stroke="#231f20" stroke-width="0.1" text-anchor="end">75</text>
<line x1="49.50" y1="372.30" x2="52.50" y2="372.30" stroke="#231f20" stroke-width="1.25"/>
<text x="46.20" y="374.90" font-size="8.0" fill="#231f20" stroke="#231f20" stroke-width="0.1" text-anchor="end">100</text>
<line x1="51.90" y1="499.50" x2="218.30" y2="499.50" stroke="#231f20" stroke-width="1.2"/>
<line x1="52.80" y1="499.50" x2="52.80" y2="502.50" stroke="#231f20" stroke-width="1.0"/>
<text x="52.80" y="513.60" font-size="8.0" fill="#231f20" stroke="#231f20" stroke-width="0.1" text-anchor="middle">0</text>
<line x1="106.67" y1="499.50" x2="106.67" y2="502.50" stroke="#231f20" stroke-width="1.0"/>
<text x="106.67" y="513.60" font-size="8.0" fill="#231f20" stroke="#231f20" stroke-width="0.1" text-anchor="middle">50</text>
<line x1="160.55" y1="499.50" x2="160.55" y2="502.50" stroke="#231f20" stroke-width="1.0"/>
<text x="160.55" y="513.60" font-size="8.0" fill="#231f20" stroke="#231f20" stroke-width="0.1" text-anchor="middle">100</text>
<line x1="214.42" y1="499.50" x2="214.42" y2="502.50" stroke="#231f20" stroke-width="1.0"/>
<text x="214.42" y="513.60" font-size="8.0" fill="#231f20" stroke="#231f20" stroke-width="0.1" text-anchor="middle">150</text>
<text x="86.40" y="527.60" font-size="9.6" fill="#231f20" stroke="#231f20" stroke-width="0.18" textLength="98.60" lengthAdjust="spacingAndGlyphs">Days post engraftment</text>
<text x="26.20" y="429.80" font-size="9.5" fill="#231f20" stroke="#231f20" stroke-width="0.18" text-anchor="middle" textLength="43.20" lengthAdjust="spacingAndGlyphs" transform="rotate(-90 26.20 429.80)">% survival</text>
<polyline points="52.50,372.50 78.75,372.50 78.75,391.00 132.10,391.00 132.10,409.20 148.10,409.20 148.10,427.40 179.40,427.40 179.40,445.30 183.70,445.30 183.70,463.50 192.50,463.50" fill="none" stroke="#5e376c" stroke-width="1.3" stroke-linejoin="miter"/>
<polyline points="120.70,372.50 132.50,372.50 132.50,391.00 135.00,391.00 135.00,409.20 148.10,409.20 148.10,499.50" fill="none" stroke="#3c5e8f" stroke-width="1.3" stroke-linejoin="miter"/>
<polyline points="52.50,372.50 132.50,372.50 132.50,391.00 135.00,391.00 135.00,426.40 141.30,426.40 141.30,499.50" fill="none" stroke="#70ad4f" stroke-width="1.3" stroke-linejoin="miter"/>
<polyline points="52.50,372.50 120.70,372.50 120.70,420.40 123.60,420.40 123.60,436.30 127.20,436.30 127.20,452.00 133.90,452.00 133.90,499.50" fill="none" stroke="#ac263d" stroke-width="1.3" stroke-linejoin="miter"/>
<polygon points="78.75,392.50 75.75,387.40 81.75,387.40" fill="#5e376c"/>
<polygon points="132.10,410.70 129.10,405.60 135.10,405.60" fill="#5e376c"/>
<polygon points="148.10,428.90 145.10,423.80 151.10,423.80" fill="#5e376c"/>
<polygon points="179.40,446.30 176.40,441.20 182.40,441.20" fill="#5e376c"/>
<polygon points="183.70,464.50 180.70,459.40 186.70,459.40" fill="#5e376c"/>
<polygon points="192.50,464.50 189.50,459.40 195.50,459.40" fill="#5e376c"/>
<polygon points="135.00,405.20 132.00,410.30 138.00,410.30" fill="#3c5e8f"/>
<polygon points="148.10,494.60 145.10,499.70 151.10,499.70" fill="#3c5e8f"/>
<rect x="130.20" y="388.70" width="4.60" height="4.60" fill="#70ad4f"/>
<rect x="132.70" y="424.10" width="4.60" height="4.60" fill="#70ad4f"/>
<rect x="139.00" y="497.00" width="4.60" height="4.60" fill="#70ad4f"/>
<circle cx="120.70" cy="420.40" r="2.20" fill="#ac263d" stroke="#ac263d" stroke-width="0.8"/>
<circle cx="123.60" cy="436.30" r="2.20" fill="#ac263d" stroke="#ac263d" stroke-width="0.8"/>
<circle cx="127.20" cy="452.00" r="2.20" fill="#ac263d" stroke="#ac263d" stroke-width="0.8"/>
<circle cx="133.90" cy="499.30" r="2.20" fill="#ac263d" stroke="#ac263d" stroke-width="0.8"/>
<line x1="155.90" y1="372.20" x2="168.00" y2="372.20" stroke="#ac263d" stroke-width="1.7"/>
<circle cx="162.00" cy="372.20" r="2.60" fill="#ac263d" stroke="#ac263d" stroke-width="0.8"/>
<text x="171.20" y="374.50" font-size="8.4" fill="#231f20" stroke="#231f20" stroke-width="0.16" textLength="23.60" lengthAdjust="spacingAndGlyphs">Vehicle</text>
<line x1="155.90" y1="383.80" x2="168.00" y2="383.80" stroke="#70ad4f" stroke-width="1.7"/>
<rect x="159.40" y="381.20" width="5.20" height="5.20" fill="#70ad4f"/>
<text x="171.20" y="386.10" font-size="8.4" fill="#231f20" stroke="#231f20" stroke-width="0.16" textLength="59.80" lengthAdjust="spacingAndGlyphs">50 mg/kg OTX015</text>
<line x1="155.90" y1="395.80" x2="168.00" y2="395.80" stroke="#3c5e8f" stroke-width="1.7"/>
<polygon points="162.00,391.50 158.50,397.45 165.50,397.45" fill="#3c5e8f"/>
<text x="171.20" y="398.10" font-size="8.4" fill="#231f20" stroke="#231f20" stroke-width="0.16" textLength="61.30" lengthAdjust="spacingAndGlyphs">10 mg/kg ARV-771</text>
<line x1="155.90" y1="407.50" x2="168.00" y2="407.50" stroke="#5e376c" stroke-width="1.7"/>
<polygon points="162.00,411.80 158.50,405.85 165.50,405.85" fill="#5e376c"/>
<text x="171.20" y="409.80" font-size="8.4" fill="#231f20" stroke="#231f20" stroke-width="0.16" textLength="61.30" lengthAdjust="spacingAndGlyphs">30 mg/kg ARV-771</text>
<text x="155.30" y="474.80" font-size="8.4" fill="#231f20" stroke="#231f20" stroke-width="0.16" textLength="81.90" lengthAdjust="spacingAndGlyphs">Veh vs OTX015 p=0.0005</text>
<text x="155.30" y="484.40" font-size="8.4" fill="#231f20" stroke="#231f20" stroke-width="0.16" textLength="94.10" lengthAdjust="spacingAndGlyphs">Veh vs 10 ARV-771 p=0.0014</text>
<text x="155.30" y="494.50" font-size="8.4" fill="#231f20" stroke="#231f20" stroke-width="0.16" textLength="94.10" lengthAdjust="spacingAndGlyphs">Veh vs 30 ARV-771 p=0.0172</text>
<text x="270.00" y="355.50" font-size="11" fill="#231f20" stroke="#231f20" stroke-width="0.05">F</text>
<text x="370.60" y="379.40" font-size="9.9" fill="#231f20" stroke="#231f20" stroke-width="0.08" textLength="93.10" lengthAdjust="spacingAndGlyphs">Mono-Mac-1/GFP-Luc</text>
<text x="370.60" y="390.80" font-size="9.9" fill="#231f20" stroke="#231f20" stroke-width="0.08" textLength="93.10" lengthAdjust="spacingAndGlyphs">i-sh-Runx1 xenografts</text>
<line x1="348.60" y1="397.00" x2="348.60" y2="499.80" stroke="#231f20" stroke-width="1.2"/>
<line x1="345.40" y1="410.20" x2="348.60" y2="410.20" stroke="#231f20" stroke-width="1.25"/>
<line x1="345.40" y1="435.60" x2="348.60" y2="435.60" stroke="#231f20" stroke-width="1.25"/>
<line x1="345.40" y1="461.30" x2="348.60" y2="461.30" stroke="#231f20" stroke-width="1.25"/>
<line x1="345.40" y1="487.30" x2="348.60" y2="487.30" stroke="#231f20" stroke-width="1.25"/>
<text x="341.50" y="413.00" font-size="8.6" fill="#231f20" stroke="#231f20" stroke-width="0.16" text-anchor="end" textLength="26.50" lengthAdjust="spacingAndGlyphs">Vehicle</text>
<text x="341.50" y="433.30" font-size="8.6" fill="#231f20" stroke="#231f20" stroke-width="0.16" text-anchor="end" textLength="34.00" lengthAdjust="spacingAndGlyphs">10 mg/kg</text>
<text x="341.50" y="443.60" font-size="8.6" fill="#231f20" stroke="#231f20" stroke-width="0.16" text-anchor="end" textLength="43.00" lengthAdjust="spacingAndGlyphs">Doxycycline</text>
<text x="341.50" y="459.00" font-size="8.6" fill="#231f20" stroke="#231f20" stroke-width="0.16" text-anchor="end" textLength="34.00" lengthAdjust="spacingAndGlyphs">50 mg/kg</text>
<text x="341.50" y="469.10" font-size="8.6" fill="#231f20" stroke="#231f20" stroke-width="0.16" text-anchor="end" textLength="28.00" lengthAdjust="spacingAndGlyphs">OTX015</text>
<text x="341.50" y="484.00" font-size="8.6" fill="#231f20" stroke="#231f20" stroke-width="0.16" text-anchor="end" textLength="43.00" lengthAdjust="spacingAndGlyphs">Doxycycline</text>
<text x="341.50" y="494.50" font-size="8.6" fill="#231f20" stroke="#231f20" stroke-width="0.16" text-anchor="end" textLength="33.50" lengthAdjust="spacingAndGlyphs">+ OTX015</text>
<line x1="348.00" y1="499.20" x2="484.50" y2="499.20" stroke="#231f20" stroke-width="1.2"/>
<line x1="348.60" y1="499.20" x2="348.60" y2="502.20" stroke="#231f20" stroke-width="1.0"/>
<line x1="362.00" y1="499.20" x2="362.00" y2="501.20" stroke="#231f20" stroke-width="0.8"/>
<line x1="369.83" y1="499.20" x2="369.83" y2="501.20" stroke="#231f20" stroke-width="0.8"/>
<line x1="375.39" y1="499.20" x2="375.39" y2="501.20" stroke="#231f20" stroke-width="0.8"/>
<line x1="379.70" y1="499.20" x2="379.70" y2="501.20" stroke="#231f20" stroke-width="0.8"/>
<line x1="383.23" y1="499.20" x2="383.23" y2="501.20" stroke="#231f20" stroke-width="0.8"/>
<line x1="386.21" y1="499.20" x2="386.21" y2="501.20" stroke="#231f20" stroke-width="0.8"/>
<line x1="388.79" y1="499.20" x2="388.79" y2="501.20" stroke="#231f20" stroke-width="0.8"/>
<line x1="391.06" y1="499.20" x2="391.06" y2="501.20" stroke="#231f20" stroke-width="0.8"/>
<text x="349.60" y="513.50" font-size="8.0" fill="#231f20" stroke="#231f20" stroke-width="0.12" text-anchor="middle">10<tspan font-size="5.92" dy="-3.4" stroke-width="0.05">8</tspan></text>
<line x1="393.10" y1="499.20" x2="393.10" y2="502.20" stroke="#231f20" stroke-width="1.0"/>
<line x1="406.50" y1="499.20" x2="406.50" y2="501.20" stroke="#231f20" stroke-width="0.8"/>
<line x1="414.33" y1="499.20" x2="414.33" y2="501.20" stroke="#231f20" stroke-width="0.8"/>
<line x1="419.89" y1="499.20" x2="419.89" y2="501.20" stroke="#231f20" stroke-width="0.8"/>
<line x1="424.20" y1="499.20" x2="424.20" y2="501.20" stroke="#231f20" stroke-width="0.8"/>
<line x1="427.73" y1="499.20" x2="427.73" y2="501.20" stroke="#231f20" stroke-width="0.8"/>
<line x1="430.71" y1="499.20" x2="430.71" y2="501.20" stroke="#231f20" stroke-width="0.8"/>
<line x1="433.29" y1="499.20" x2="433.29" y2="501.20" stroke="#231f20" stroke-width="0.8"/>
<line x1="435.56" y1="499.20" x2="435.56" y2="501.20" stroke="#231f20" stroke-width="0.8"/>
<text x="394.10" y="513.50" font-size="8.0" fill="#231f20" stroke="#231f20" stroke-width="0.12" text-anchor="middle">10<tspan font-size="5.92" dy="-3.4" stroke-width="0.05">9</tspan></text>
<line x1="437.60" y1="499.20" x2="437.60" y2="502.20" stroke="#231f20" stroke-width="1.0"/>
<line x1="451.00" y1="499.20" x2="451.00" y2="501.20" stroke="#231f20" stroke-width="0.8"/>
<line x1="458.83" y1="499.20" x2="458.83" y2="501.20" stroke="#231f20" stroke-width="0.8"/>
<line x1="464.39" y1="499.20" x2="464.39" y2="501.20" stroke="#231f20" stroke-width="0.8"/>
<line x1="468.70" y1="499.20" x2="468.70" y2="501.20" stroke="#231f20" stroke-width="0.8"/>
<line x1="472.23" y1="499.20" x2="472.23" y2="501.20" stroke="#231f20" stroke-width="0.8"/>
<line x1="475.21" y1="499.20" x2="475.21" y2="501.20" stroke="#231f20" stroke-width="0.8"/>
<line x1="477.79" y1="499.20" x2="477.79" y2="501.20" stroke="#231f20" stroke-width="0.8"/>
<line x1="480.06" y1="499.20" x2="480.06" y2="501.20" stroke="#231f20" stroke-width="0.8"/>
<text x="438.60" y="513.50" font-size="8.0" fill="#231f20" stroke="#231f20" stroke-width="0.12" text-anchor="middle">10<tspan font-size="5.92" dy="-3.4" stroke-width="0.05">10</tspan></text>
<line x1="482.10" y1="499.20" x2="482.10" y2="502.20" stroke="#231f20" stroke-width="1.0"/>
<text x="483.10" y="513.50" font-size="8.0" fill="#231f20" stroke="#231f20" stroke-width="0.12" text-anchor="middle">10<tspan font-size="5.92" dy="-3.4" stroke-width="0.05">11</tspan></text>
<text x="345.80" y="527.30" font-size="9.6" fill="#231f20" stroke="#231f20" stroke-width="0.18" textLength="140.20" lengthAdjust="spacingAndGlyphs">Total flux (p/s) post 2 weeks of Rx</text>
<line x1="426" y1="397" x2="426" y2="499.2" stroke="#231f20" stroke-width="1" stroke-dasharray="1.2,1.2"/>
<line x1="405.00" y1="410.10" x2="417.30" y2="410.10" stroke="#b4485c" stroke-width="1.0"/>
<line x1="430.60" y1="410.10" x2="435.50" y2="410.10" stroke="#b4485c" stroke-width="1.0"/>
<line x1="405.00" y1="405.60" x2="405.00" y2="414.60" stroke="#b4485c" stroke-width="1.0"/>
<line x1="435.50" y1="405.60" x2="435.50" y2="414.60" stroke="#b4485c" stroke-width="1.0"/>
<rect x="417.30" y="401.80" width="13.30" height="16.60" fill="none" stroke="#b4485c" stroke-width="1.0"/>
<line x1="427.40" y1="401.80" x2="427.40" y2="418.40" stroke="#b4485c" stroke-width="1.0"/>
<line x1="380.40" y1="435.80" x2="381.30" y2="435.80" stroke="#70ad4f" stroke-width="1.0"/>
<line x1="398.70" y1="435.80" x2="405.80" y2="435.80" stroke="#70ad4f" stroke-width="1.0"/>
<line x1="380.40" y1="432.30" x2="380.40" y2="439.30" stroke="#70ad4f" stroke-width="1.0"/>
<line x1="405.80" y1="432.30" x2="405.80" y2="439.30" stroke="#70ad4f" stroke-width="1.0"/>
<rect x="381.30" y="427.65" width="17.40" height="16.30" fill="none" stroke="#70ad4f" stroke-width="1.0"/>
<line x1="388.00" y1="427.65" x2="388.00" y2="443.95" stroke="#70ad4f" stroke-width="1.0"/>
<text x="407.30" y="439.20" font-size="7" fill="#231f20" stroke="#231f20" stroke-width="0.1" textLength="7.20" lengthAdjust="spacingAndGlyphs">**</text>
<line x1="413.50" y1="461.20" x2="415.40" y2="461.20" stroke="#3c5e8f" stroke-width="1.0"/>
<line x1="440.50" y1="461.20" x2="453.30" y2="461.20" stroke="#3c5e8f" stroke-width="1.0"/>
<line x1="413.50" y1="457.70" x2="413.50" y2="464.70" stroke="#3c5e8f" stroke-width="1.0"/>
<line x1="453.30" y1="457.70" x2="453.30" y2="464.70" stroke="#3c5e8f" stroke-width="1.0"/>
<rect x="415.40" y="453.00" width="25.10" height="16.40" fill="none" stroke="#3c5e8f" stroke-width="1.0"/>
<line x1="428.00" y1="453.00" x2="428.00" y2="469.40" stroke="#3c5e8f" stroke-width="1.0"/>
<line x1="368.50" y1="487.20" x2="376.50" y2="487.20" stroke="#5e376c" stroke-width="1.0"/>
<line x1="389.00" y1="487.20" x2="394.40" y2="487.20" stroke="#5e376c" stroke-width="1.0"/>
<line x1="368.50" y1="483.70" x2="368.50" y2="490.70" stroke="#5e376c" stroke-width="1.0"/>
<line x1="394.40" y1="483.70" x2="394.40" y2="490.70" stroke="#5e376c" stroke-width="1.0"/>
<rect x="376.50" y="479.00" width="12.50" height="16.40" fill="none" stroke="#5e376c" stroke-width="1.0"/>
<line x1="382.70" y1="479.00" x2="382.70" y2="495.40" stroke="#5e376c" stroke-width="1.0"/>
<text x="397.70" y="490.60" font-size="7" fill="#231f20" stroke="#231f20" stroke-width="0.1" textLength="7.20" lengthAdjust="spacingAndGlyphs">**</text>
<text x="100.40" y="555.70" font-size="11" fill="#231f20" stroke="#231f20" stroke-width="0.05">G</text>
<text x="154.50" y="556.30" font-size="9.9" fill="#231f20" stroke="#231f20" stroke-width="0.08" textLength="193.00" lengthAdjust="spacingAndGlyphs">Mono-Mac-1/GFP-Luc i-sh-RUNX1 xenografts</text>
<line x1="145.70" y1="562.00" x2="145.70" y2="693.20" stroke="#231f20" stroke-width="1.2"/>
<line x1="142.70" y1="692.60" x2="145.70" y2="692.60" stroke="#231f20" stroke-width="1.25"/>
<text x="139.30" y="695.20" font-size="8.0" fill="#231f20" stroke="#231f20" stroke-width="0.1" text-anchor="end">0</text>
<line x1="142.70" y1="663.10" x2="145.70" y2="663.10" stroke="#231f20" stroke-width="1.25"/>
<text x="139.30" y="665.70" font-size="8.0" fill="#231f20" stroke="#231f20" stroke-width="0.1" text-anchor="end">25</text>
<line x1="142.70" y1="633.60" x2="145.70" y2="633.60" stroke="#231f20" stroke-width="1.25"/>
<text x="139.30" y="636.20" font-size="8.0" fill="#231f20" stroke="#231f20" stroke-width="0.1" text-anchor="end">50</text>
<line x1="142.70" y1="604.10" x2="145.70" y2="604.10" stroke="#231f20" stroke-width="1.25"/>
<text x="139.30" y="606.70" font-size="8.0" fill="#231f20" stroke="#231f20" stroke-width="0.1" text-anchor="end">75</text>
<line x1="142.70" y1="574.60" x2="145.70" y2="574.60" stroke="#231f20" stroke-width="1.25"/>
<text x="139.30" y="577.20" font-size="8.0" fill="#231f20" stroke="#231f20" stroke-width="0.1" text-anchor="end">100</text>
<text x="120.10" y="627.30" font-size="9.5" fill="#231f20" stroke="#231f20" stroke-width="0.18" text-anchor="middle" textLength="42.80" lengthAdjust="spacingAndGlyphs" transform="rotate(-90 120.10 627.30)">% survival</text>
<line x1="145.10" y1="692.60" x2="187.30" y2="692.60" stroke="#231f20" stroke-width="1.2"/>
<line x1="187.30" y1="689.60" x2="187.30" y2="695.60" stroke="#231f20" stroke-width="1.0"/>
<line x1="145.70" y1="692.60" x2="145.70" y2="695.60" stroke="#231f20" stroke-width="1.0"/>
<line x1="197.50" y1="692.60" x2="315.50" y2="692.60" stroke="#231f20" stroke-width="1.2"/>
<line x1="197.50" y1="689.60" x2="197.50" y2="695.60" stroke="#231f20" stroke-width="1.0"/>
<line x1="224.25" y1="692.60" x2="224.25" y2="695.60" stroke="#231f20" stroke-width="1.0"/>
<line x1="251.00" y1="692.60" x2="251.00" y2="695.60" stroke="#231f20" stroke-width="1.0"/>
<line x1="277.75" y1="692.60" x2="277.75" y2="695.60" stroke="#231f20" stroke-width="1.0"/>
<line x1="304.50" y1="692.60" x2="304.50" y2="695.60" stroke="#231f20" stroke-width="1.0"/>
<text x="145.50" y="705.50" font-size="8.0" fill="#231f20" stroke="#231f20" stroke-width="0.1" text-anchor="middle">0</text>
<text x="186.60" y="705.50" font-size="8.0" fill="#231f20" stroke="#231f20" stroke-width="0.1" text-anchor="middle">5</text>
<text x="197.30" y="705.50" font-size="8.0" fill="#231f20" stroke="#231f20" stroke-width="0.1" text-anchor="middle">20</text>
<text x="224.25" y="705.50" font-size="8.0" fill="#231f20" stroke="#231f20" stroke-width="0.1" text-anchor="middle">25</text>
<text x="251.00" y="705.50" font-size="8.0" fill="#231f20" stroke="#231f20" stroke-width="0.1" text-anchor="middle">30</text>
<text x="277.75" y="705.50" font-size="8.0" fill="#231f20" stroke="#231f20" stroke-width="0.1" text-anchor="middle">35</text>
<text x="304.50" y="705.50" font-size="8.0" fill="#231f20" stroke="#231f20" stroke-width="0.1" text-anchor="middle">40</text>
<text x="230.80" y="720.30" font-size="9.6" fill="#231f20" stroke="#231f20" stroke-width="0.18" text-anchor="middle" textLength="98.60" lengthAdjust="spacingAndGlyphs">Days post engraftment</text>
<line x1="145.70" y1="571.40" x2="186.30" y2="571.40" stroke="#5e376c" stroke-width="1.3"/>
<line x1="145.70" y1="574.30" x2="186.30" y2="574.30" stroke="#ac263d" stroke-width="1.3"/>
<line x1="173.70" y1="580.00" x2="173.70" y2="586.30" stroke="#231f20" stroke-width="1.2"/>
<polygon points="173.7,577 170.9,583 176.5,583" fill="#231f20"/>
<text x="173.70" y="596.00" font-size="8.6" fill="#231f20" stroke="#231f20" stroke-width="0.16" text-anchor="middle" textLength="21.00" lengthAdjust="spacingAndGlyphs">Initial</text>
<text x="173.70" y="606.60" font-size="8.6" fill="#231f20" stroke="#231f20" stroke-width="0.16" text-anchor="middle" textLength="17.00" lengthAdjust="spacingAndGlyphs">Drug</text>
<text x="173.70" y="617.00" font-size="8.6" fill="#231f20" stroke="#231f20" stroke-width="0.16" text-anchor="middle" textLength="37.00" lengthAdjust="spacingAndGlyphs">Treatment</text>
<polyline points="197.50,574.30 213.70,574.30 213.70,591.50 235.40,591.50 235.40,676.50 240.00,676.50 240.00,692.60" fill="none" stroke="#3c5e8f" stroke-width="1.3" stroke-linejoin="miter"/>
<polyline points="197.50,574.30 251.30,574.30 251.30,658.80 257.00,658.80 257.00,675.80 267.50,675.80 267.50,692.60" fill="none" stroke="#70ad4f" stroke-width="1.3" stroke-linejoin="miter"/>
<polyline points="197.50,571.40 278.00,571.40 278.00,588.80 288.00,588.80 288.00,656.30 293.80,656.30 293.80,673.80" fill="none" stroke="#5e376c" stroke-width="1.3" stroke-linejoin="miter"/>
<polyline points="197.50,574.30 208.50,574.30 208.50,607.50 213.70,607.50 213.70,658.80 224.20,658.80 224.20,692.60" fill="none" stroke="#ac263d" stroke-width="1.3" stroke-linejoin="miter"/>
<polygon points="278,586.4 280.4,588.8 278,591.1999999999999 275.6,588.8" fill="#5e376c"/>
<polygon points="288,653.9 290.4,656.3 288,658.6999999999999 285.6,656.3" fill="#5e376c"/>
<polygon points="293.8,671.4 296.2,673.8 293.8,676.1999999999999 291.40000000000003,673.8" fill="#5e376c"/>
<polygon points="213.70,587.50 210.70,592.60 216.70,592.60" fill="#3c5e8f"/>
<polygon points="235.40,672.50 232.40,677.60 238.40,677.60" fill="#3c5e8f"/>
<polygon points="240.00,688.20 237.00,693.30 243.00,693.30" fill="#3c5e8f"/>
<rect x="249.00" y="656.50" width="4.60" height="4.60" fill="#70ad4f"/>
<rect x="254.70" y="673.50" width="4.60" height="4.60" fill="#70ad4f"/>
<rect x="265.20" y="690.10" width="4.60" height="4.60" fill="#70ad4f"/>
<circle cx="208.50" cy="607.50" r="2.20" fill="#ac263d" stroke="#ac263d" stroke-width="0.8"/>
<circle cx="213.70" cy="658.80" r="2.20" fill="#ac263d" stroke="#ac263d" stroke-width="0.8"/>
<circle cx="224.20" cy="692.40" r="2.20" fill="#ac263d" stroke="#ac263d" stroke-width="0.8"/>
<line x1="305.90" y1="571.50" x2="318.00" y2="571.50" stroke="#ac263d" stroke-width="1.7"/>
<circle cx="312.30" cy="571.50" r="2.60" fill="#ac263d" stroke="#ac263d" stroke-width="0.8"/>
<text x="321.20" y="573.70" font-size="8.4" fill="#231f20" stroke="#231f20" stroke-width="0.16" textLength="23.60" lengthAdjust="spacingAndGlyphs">Vehicle</text>
<line x1="305.90" y1="583.20" x2="318.00" y2="583.20" stroke="#70ad4f" stroke-width="1.7"/>
<rect x="309.70" y="580.60" width="5.20" height="5.20" fill="#70ad4f"/>
<text x="321.20" y="585.40" font-size="8.4" fill="#231f20" stroke="#231f20" stroke-width="0.16" textLength="74.00" lengthAdjust="spacingAndGlyphs">10 mg/kg Doxycycline</text>
<line x1="305.90" y1="595.40" x2="318.00" y2="595.40" stroke="#3c5e8f" stroke-width="1.7"/>
<polygon points="312.30,591.10 308.80,597.05 315.80,597.05" fill="#3c5e8f"/>
<text x="321.20" y="597.60" font-size="8.4" fill="#231f20" stroke="#231f20" stroke-width="0.16" textLength="59.80" lengthAdjust="spacingAndGlyphs">50 mg/kg OTX015</text>
<line x1="305.90" y1="607.00" x2="318.00" y2="607.00" stroke="#5e376c" stroke-width="1.7"/>
<polygon points="312.30,611.30 308.80,605.35 315.80,605.35" fill="#5e376c"/>
<text x="321.20" y="609.20" font-size="8.4" fill="#231f20" stroke="#231f20" stroke-width="0.16" textLength="74.40" lengthAdjust="spacingAndGlyphs">Doxycycline + OTX015</text>
<text x="313.90" y="638.10" font-size="8.4" fill="#231f20" stroke="#231f20" stroke-width="0.16" textLength="71.50" lengthAdjust="spacingAndGlyphs">Veh vs DOX p=0.0002</text>
<text x="313.90" y="648.30" font-size="8.4" fill="#231f20" stroke="#231f20" stroke-width="0.16" textLength="83.10" lengthAdjust="spacingAndGlyphs">Veh vs OTX015 p=0.0017</text>
<text x="313.90" y="658.80" font-size="8.4" fill="#231f20" stroke="#231f20" stroke-width="0.16" textLength="90.10" lengthAdjust="spacingAndGlyphs">Veh vs DOX+OTX p=0.0002</text>
<text x="313.90" y="669.00" font-size="8.4" fill="#231f20" stroke="#231f20" stroke-width="0.16" textLength="91.60" lengthAdjust="spacingAndGlyphs">DOX vs DOX+OTX p=0.0001</text>
<text x="313.90" y="679.00" font-size="8.4" fill="#231f20" stroke="#231f20" stroke-width="0.16" textLength="90.50" lengthAdjust="spacingAndGlyphs">OTX vs DOX+OTX p=0.0002</text>
<rect x="0" y="0" width="520" height="1.5" fill="#4d4d4d"/>
<rect x="0" y="729.5" width="520" height="1.5" fill="#4d4d4d"/>
<rect x="0" y="0" width="1.5" height="731" fill="#4d4d4d"/>
<rect x="519" y="0" width="1" height="731" fill="#000"/>
</svg>
</body></html>
